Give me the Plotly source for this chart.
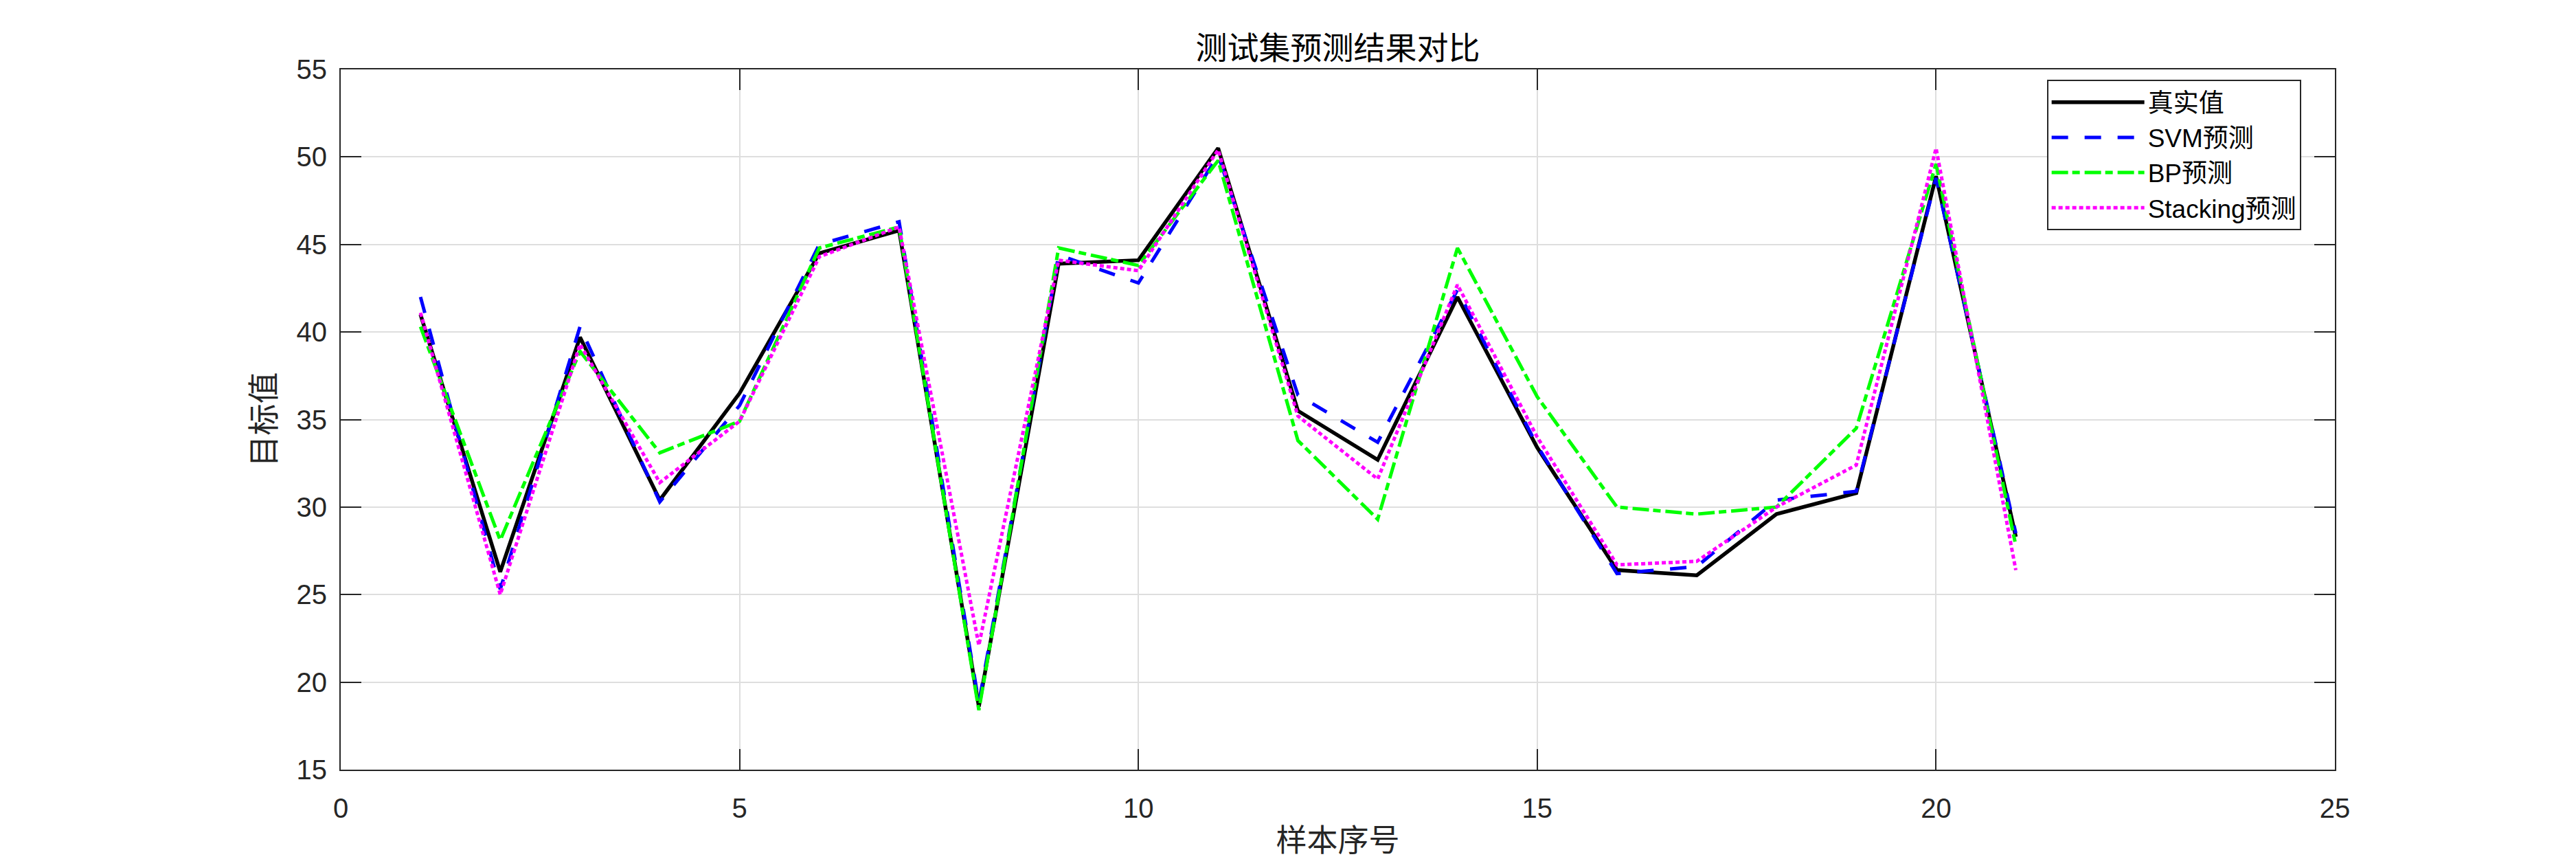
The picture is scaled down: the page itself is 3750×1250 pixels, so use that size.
import plotly.graph_objects as go

_AX   = "#262626"
_GRID = "#dedede"
_FONT = "Liberation Sans, Arial, Noto Sans CJK SC, sans-serif"

sample_idx = list(range(1, 22))

y_true = [41.0, 26.3, 39.7, 30.4, 36.5, 44.5, 45.8, 18.6, 43.9, 44.1, 50.5,
          35.5, 32.7, 42.0, 33.4, 26.4, 26.1, 29.6, 30.8, 48.9, 28.3]
y_svm = [42.0, 25.3, 40.3, 30.3, 35.8, 45.0, 46.3, 18.8, 44.4, 42.8, 50.1,
         36.4, 33.7, 42.4, 33.5, 26.2, 26.6, 30.4, 30.9, 48.8, 28.5]
y_bp = [40.3, 28.1, 38.9, 33.1, 34.9, 44.8, 46.0, 18.4, 44.8, 43.8, 49.8,
        33.8, 29.3, 44.8, 36.3, 30.0, 29.6, 30.0, 34.5, 49.6, 27.8]
y_stack = [41.1, 25.0, 39.3, 31.4, 34.9, 44.3, 46.0, 22.1, 44.1, 43.5, 50.4,
           35.2, 31.6, 42.7, 34.0, 26.7, 26.9, 30.0, 32.4, 50.5, 26.4]

x_ticks = [0, 5, 10, 15, 20, 25]
y_ticks = [15, 20, 25, 30, 35, 40, 45, 50, 55]

fig = go.Figure()
fig.add_trace(go.Scatter(x=sample_idx, y=y_true, name="真实值", mode="lines",
                         line=dict(color="#000000", width=5.5)))
fig.add_trace(go.Scatter(x=sample_idx, y=y_svm, name="SVM预测", mode="lines",
                         line=dict(color="#0000ff", width=5, dash="24px,24px")))
fig.add_trace(go.Scatter(x=sample_idx, y=y_bp, name="BP预测", mode="lines",
                         line=dict(color="#00ff00", width=5, dash="24px,6px,11px,7px")))
fig.add_trace(go.Scatter(x=sample_idx, y=y_stack, name="Stacking预测", mode="lines",
                         line=dict(color="#ff00ff", width=5, dash="6px,4px")))

axis_common = dict(
    showgrid=True, gridcolor=_GRID, gridwidth=1.5,
    showline=True, linecolor=_AX, linewidth=2, mirror="ticks",
    ticks="inside", ticklen=30, tickwidth=1.5, tickcolor=_AX,
    zeroline=False,
    tickfont=dict(family=_FONT, size=40, color=_AX),
)

fig.update_layout(
    width=3750, height=1250,
    paper_bgcolor="white", plot_bgcolor="white",
    margin=dict(l=488, r=359, t=93, b=138),
    font=dict(family=_FONT, color=_AX),
    title=dict(text="测试集预测结果对比", x=(488 + 3391) / 2 / 3750, xanchor="center",
               y=1 - 62 / 1250, yanchor="middle", yref="container",
               font=dict(family="Noto Sans CJK SC", size=46, color="#000000")),
    xaxis=dict(range=[0, 25], tickvals=x_ticks, ticklabelstandoff=20,
               title=dict(text="样本序号", standoff=10,
                          font=dict(family="Noto Sans CJK SC", size=45, color=_AX)),
               **axis_common),
    yaxis=dict(range=[15, 55], tickvals=y_ticks, ticklabelstandoff=10,
               title=dict(text="目标值", standoff=16,
                          font=dict(family="Noto Sans CJK SC", size=46, color=_AX)),
               **axis_common),
    showlegend=True,
    legend=dict(x=0.983, y=0.985, xanchor="right", yanchor="top",
                bgcolor="white", bordercolor=_AX, borderwidth=2,
                font=dict(family=_FONT, size=37, color="#000000"),
                itemwidth=135, tracegroupgap=0),
)

fig.write_html("out.html")
